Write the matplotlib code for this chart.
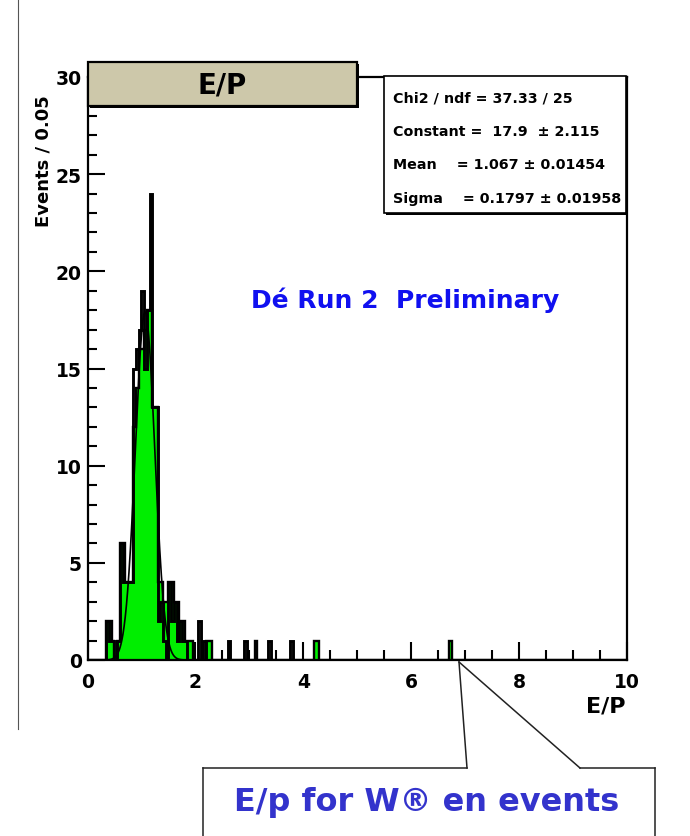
import numpy as np
import matplotlib
matplotlib.use("Agg")
import matplotlib.pyplot as plt
from matplotlib.patches import Rectangle
from matplotlib.lines import Line2D
from matplotlib.transforms import Bbox

# E/P histogram, 0.05 wide bins on 0..10
bin_width = 0.05
x_min, x_max = 0.0, 10.0

# green (filled) histogram: bin lower edge -> events
green_x = [0.35, 0.40, 0.45, 0.55, 0.60, 0.65, 0.70, 0.75, 0.80, 0.85, 0.90,
           0.95, 1.00, 1.05, 1.10, 1.15, 1.20, 1.25, 1.30, 1.35, 1.40, 1.45,
           1.50, 1.55, 1.60, 1.65, 1.70, 1.75, 1.80, 1.85, 1.90, 2.20, 2.25,
           3.10, 4.20, 4.25, 6.70]
green_n = [2, 2, 1, 1, 6, 6, 4, 4, 4, 12, 14,
           16, 16, 17, 18, 18, 13, 13, 4, 4, 3, 3,
           4, 4, 3, 3, 2, 2, 1, 1, 1, 1, 1,
           1, 1, 1, 1]

# black (line) histogram
black_x = [0.35, 0.40, 0.45, 0.55, 0.60, 0.65, 0.70, 0.75, 0.80, 0.85, 0.90,
           0.95, 1.00, 1.05, 1.10, 1.15, 1.20, 1.25, 1.30, 1.35, 1.40, 1.50,
           1.55, 1.60, 1.65, 1.70, 1.75, 1.80, 2.05, 2.15, 2.60, 2.90, 3.35,
           3.75]
black_n = [2, 1, 1, 1, 6, 4, 4, 4, 4, 15, 16,
           17, 19, 15, 18, 24, 13, 13, 2, 3, 1, 4,
           2, 3, 1, 2, 1, 1, 2, 1, 1, 1, 1,
           1]

# gaussian fit result
fit_const = 17.9
fit_mean = 1.067
fit_sigma = 0.1797

stats_lines = ["Chi2 / ndf = 37.33 / 25",
               "Constant =  17.9  \u00b1 2.115",
               "Mean    = 1.067 \u00b1 0.01454",
               "Sigma    = 0.1797 \u00b1 0.01958"]

W, H = 690, 837


def px(x, y):
    # pixel position (from top left) -> figure fraction
    return x / W, 1 - y / H


edges = np.round(np.arange(x_min, x_max + bin_width / 2, bin_width), 4)
nbins = len(edges) - 1
green = np.zeros(nbins)
black = np.zeros(nbins)
for x, n in zip(green_x, green_n):
    green[int(round(x / bin_width))] = n
for x, n in zip(black_x, black_n):
    black[int(round(x / bin_width))] = n

fig = plt.figure(figsize=(W / 100, H / 100), dpi=100)
fig.patch.set_facecolor("white")

l, b = px(87.5, 661)
r, t = px(627, 78)
ax = fig.add_axes([l, b, r - l, t - b])

ax.stairs(green, edges, fill=True, color="#00ee00", zorder=2)
ax.stairs(green, edges, color="black", lw=1.7, zorder=3)
ax.stairs(black, edges, color="black", lw=2.1, zorder=4)

xf = np.linspace(0.3, 2.0, 400)
ax.plot(xf, fit_const * np.exp(-0.5 * ((xf - fit_mean) / fit_sigma) ** 2),
        color="black", lw=1.2, zorder=5)

ax.set_xlim(x_min, x_max)
ax.set_ylim(0, 30)
for s in ax.spines.values():
    s.set_linewidth(1.6)

ax.set_xticks(np.arange(0, 10.01, 2))
ax.set_xticks(np.arange(0, 10.01, 0.5), minor=True)
ax.set_yticks(np.arange(0, 30.01, 5))
ax.set_yticks(np.arange(0, 30.01, 1), minor=True)
ax.tick_params(axis="x", which="major", direction="in", length=13, width=1.5,
               pad=9, labelsize=13.5)
ax.tick_params(axis="x", which="minor", direction="in", length=7, width=1.5)
ax.tick_params(axis="y", which="major", direction="in", length=12, width=1.5,
               pad=4, labelsize=13.5)
ax.tick_params(axis="y", which="minor", direction="in", length=6.5, width=1.5)
for lab in ax.get_xticklabels() + ax.get_yticklabels():
    lab.set_fontweight("bold")

fig.text(*px(625, 707), "E/P", ha="right", va="center", fontsize=16,
         fontweight="bold")
fig.text(*px(43, 161), "Events / 0.05", rotation=90, ha="center",
         va="center", fontsize=13, fontweight="bold")

fig.text(*px(405, 300), "D\u00e9 Run 2  Preliminary", ha="center",
         va="center", fontsize=18, fontweight="bold", color="#1010f0")

# title box
bx0, by0 = px(88, 107)
bx1, by1 = px(357, 63)
fig.add_artist(Rectangle(px(90, 109), bx1 - bx0, by1 - by0,
                         transform=fig.transFigure, facecolor="black",
                         edgecolor="none", zorder=10))
fig.add_artist(Rectangle((bx0, by0), bx1 - bx0, by1 - by0,
                         transform=fig.transFigure, facecolor="#cdc8aa",
                         edgecolor="black", lw=1.6, zorder=11))
fig.text(*px(222, 86), "E/P", ha="center", va="center", fontsize=20,
         fontweight="bold", zorder=12)

# stats box
sx0, sy0 = px(384, 214)
sx1, sy1 = px(626, 77)
fig.add_artist(Rectangle(px(386, 216), sx1 - sx0, sy1 - sy0,
                         transform=fig.transFigure, facecolor="black",
                         edgecolor="none", zorder=10))
fig.add_artist(Rectangle((sx0, sy0), sx1 - sx0, sy1 - sy0,
                         transform=fig.transFigure, facecolor="white",
                         edgecolor="black", lw=1.2, zorder=11))
clip = Bbox.from_extents(384, H - 214, 624, H - 77)
for i, line in enumerate(stats_lines):
    tx = fig.text(*px(393, 98 + i * 33.5), line, ha="left", va="center",
                  fontsize=10.3, fontweight="bold", zorder=12)
    tx.set_clip_box(clip)
    tx.set_clip_on(True)

# left frame line of the slide
fig.add_artist(Line2D(*zip(px(18, 0), px(18, 730)), transform=fig.transFigure,
                      color="#555555", lw=0.8))

# callout
apex = px(459, 663)
for end in [px(467, 769), px(580, 769)]:
    fig.add_artist(Line2D([apex[0], end[0]], [apex[1], end[1]],
                          transform=fig.transFigure, color="#222222", lw=1.1))
for seg in [[(203, 769), (467, 769)], [(580, 769), (655, 769)],
            [(203, 769), (203, 837)], [(655, 769), (655, 837)]]:
    p0, p1 = px(*seg[0]), px(*seg[1])
    fig.add_artist(Line2D([p0[0], p1[0]], [p0[1], p1[1]],
                          transform=fig.transFigure, color="#222222", lw=1.1))
fig.text(*px(427, 803), "E/p for W\u00ae en events", ha="center", va="center",
         fontsize=23, fontweight="bold", color="#3333cc")

fig.savefig("out.png", dpi=100)
